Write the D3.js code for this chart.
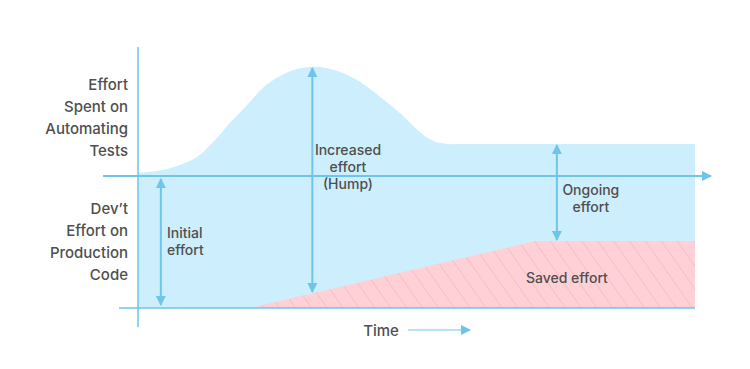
<!DOCTYPE html>
<html>
<head>
<meta charset="utf-8">
<script src="https://cdn.jsdelivr.net/npm/d3@7"></script>
<style>
  html, body { margin: 0; padding: 0; background: #fff; }
  svg { display: block; }
  text { font-family: Inter, "Open Sans", sans-serif; fill: #4f4f4f; font-weight: 500; }
</style>
</head>
<body>
<svg id="chart" width="750" height="369"></svg>
<script>
// ---- data (time 0..100, effort units) ----
const curveTime   = [0, 4.5, 7.5, 10.6, 13.5, 16.5, 19.6, 22.4, 25.5, 28.5, 30.9, 32.7, 36.3, 39.9, 43.5, 47, 50.6, 53, 55.5, 57.8, 100];
const curveEffort = [135, 138, 143, 151, 166, 185, 203, 220, 232, 239, 241, 241, 236, 226, 211, 195, 176, 167, 164, 164, 164];
const savedTime   = [20.1, 71.3, 100];
const savedEffort = [0, 67, 67];
const axisLevel   = 132;
const arrowTime   = [4.1, 31.3, 75.2];
const arrowFrom   = [3, 16, 68];
const arrowTo     = [129, 240, 163];
const yLabelTop   = ["Effort", "Spent on", "Automating", "Tests"];
const yLabelBottom= ["Dev\u2019t", "Effort on", "Production", "Code"];
const notes = [
  {lines: ["Initial", "effort"], t: 5.2, v: 67, anchor: "start"},
  {lines: ["Increased", "effort", "(Hump)"], t: 37.7, v: 141, anchor: "middle"},
  {lines: ["Ongoing", "effort"], t: 81.3, v: 110, anchor: "middle"},
  {lines: ["Saved effort"], t: 77, v: 30, anchor: "middle"}
];
const xLabel = "Time";

const svg = d3.select("#chart");
const x = d3.scaleLinear().domain([0, 100]).range([138, 695]);
const y = d3.scaleLinear().domain([0, 260]).range([308, 48]);

const BLUE = "#6ec5e9", FILL = "#cdeefc", PINK = "#ffd1d6", HATCH = "#efb3ba";

const defs = svg.append("defs");
const pat = defs.append("pattern").attr("id", "hatch")
  .attr("patternUnits", "userSpaceOnUse").attr("width", 13).attr("height", 13)
  .attr("patternTransform", "rotate(-35)");
pat.append("rect").attr("width", 13).attr("height", 13).attr("fill", PINK);
pat.append("line").attr("x1", 0).attr("y1", 0).attr("x2", 0).attr("y2", 13)
  .attr("stroke", HATCH).attr("stroke-width", 1.2);

defs.append("marker").attr("id", "arr")
  .attr("viewBox", "0 0 10 10").attr("refX", 9).attr("refY", 5)
  .attr("markerUnits", "userSpaceOnUse")
  .attr("markerWidth", 10).attr("markerHeight", 10)
  .attr("orient", "auto-start-reverse")
  .append("path").attr("d", "M0,0 L10,5 L0,10 Z").attr("fill", BLUE);

// blue effort area
const pts = curveTime.map((t, i) => [t, curveEffort[i]]);
svg.append("path")
  .datum(pts)
  .attr("fill", FILL)
  .attr("d", d3.area().x(d => x(d[0])).y0(y(0)).y1(d => y(d[1])).curve(d3.curveCatmullRom.alpha(0.5)));

// saved effort
const spts = savedTime.map((t, i) => [t, savedEffort[i]]);
svg.append("path")
  .datum(spts)
  .attr("fill", "url(#hatch)")
  .attr("d", d3.area().x(d => x(d[0])).y0(y(0)).y1(d => y(d[1])));

// axes
svg.append("line").attr("x1", x(0)).attr("x2", x(0)).attr("y1", 47).attr("y2", 327)
  .attr("stroke", BLUE).attr("stroke-width", 1.5);
svg.append("line").attr("x1", 119).attr("x2", x(100)).attr("y1", y(0)).attr("y2", y(0))
  .attr("stroke", BLUE).attr("stroke-width", 1.5);
svg.append("line").attr("x1", 103).attr("x2", 711).attr("y1", y(axisLevel)).attr("y2", y(axisLevel))
  .attr("stroke", BLUE).attr("stroke-width", 2).attr("marker-end", "url(#arr)");

// arrows
arrowTime.forEach((t, i) => {
  svg.append("line")
    .attr("x1", x(t)).attr("x2", x(t))
    .attr("y1", y(arrowFrom[i])).attr("y2", y(arrowTo[i]))
    .attr("stroke", BLUE).attr("stroke-width", 2)
    .attr("marker-start", "url(#arr)").attr("marker-end", "url(#arr)");
});

function block(lines, xx, yy, lh, size, anchor) {
  const t = svg.append("text").attr("text-anchor", anchor).attr("font-size", size);
  lines.forEach((l, i) => t.append("tspan").attr("x", xx).attr("y", yy + i * lh).text(l));
}
block(yLabelTop, 128, 90, 22, 15, "end");
block(yLabelBottom, 128, 214, 22, 15, "end");

notes.forEach(n => {
  const lh = 17;
  const y0 = y(n.v) - (n.lines.length - 1) * lh / 2 + 5;
  block(n.lines, x(n.t), y0, lh, 14, n.anchor);
});

// time label
svg.append("text").attr("x", 381).attr("y", 336).attr("text-anchor", "middle")
  .attr("font-size", 15).text(xLabel);
svg.append("line").attr("x1", 408).attr("x2", 470).attr("y1", 330).attr("y2", 330)
  .attr("stroke", BLUE).attr("stroke-width", 1.2).attr("marker-end", "url(#arr)");
</script>
</body>
</html>
